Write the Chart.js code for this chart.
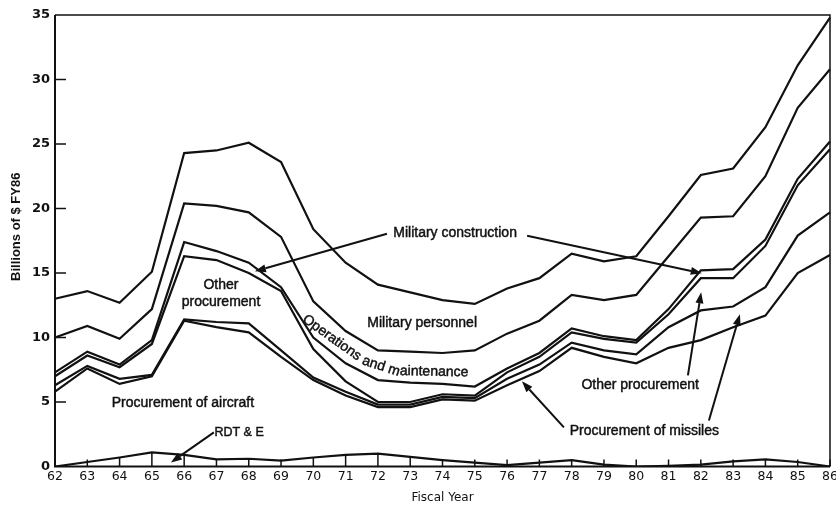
<!DOCTYPE html>
<html>
<head>
<meta charset="utf-8">
<script src="https://cdn.jsdelivr.net/npm/chart.js@4.4.1/dist/chart.umd.min.js"></script>
<style>
  html, body { margin: 0; padding: 0; background: #fff; }
  canvas { display: block; }
</style>
</head>
<body>
<canvas id="chart" width="836" height="508"></canvas>
<script>
// Fiscal years 1962-1986
const years = ['62','63','64','65','66','67','68','69','70','71','72','73','74','75','76','77','78','79','80','81','82','83','84','85','86'];

// Billions of FY86 dollars, by appropriation (stacked bottom to top)
const rdte                  = [0.0,0.35,0.7,1.1,0.9,0.55,0.6,0.45,0.7,0.9,1.0,0.75,0.5,0.3,0.1,0.3,0.5,0.15,0.0,0.05,0.15,0.4,0.55,0.35,0.0];
const aircraft              = [5.8,7.25,5.7,5.9,10.4,10.25,9.8,8.05,6.0,4.6,3.6,3.85,4.7,4.8,6.2,7.1,8.7,8.35,8.0,9.15,9.65,10.4,11.15,14.65,16.4];
const missiles              = [0.5,0.2,0.4,0.1,0.1,0.4,0.7,0.5,0.2,0.3,0.2,0.2,0.2,0.2,0.5,0.5,0.4,0.5,0.7,1.6,2.3,1.6,2.2,2.9,3.3];
const otherProcurement      = [0.7,0.8,0.9,2.4,4.9,4.8,3.9,4.6,2.2,0.8,0.2,0.2,0.2,0.2,0.5,0.6,0.8,0.9,0.9,1.0,2.5,2.2,3.2,3.9,4.9];
const militaryConstruction  = [0.3,0.3,0.2,0.3,1.1,0.7,0.8,0.3,0.9,1.4,1.7,1.5,0.8,0.7,0.3,0.3,0.3,0.2,0.2,0.4,0.6,0.7,0.5,0.5,0.6];
const operationsMaintenance = [2.7,2.0,2.0,2.4,3.0,3.5,3.9,3.9,2.8,2.5,2.3,2.4,2.4,2.8,2.7,2.5,2.6,2.8,3.5,4.1,4.1,4.1,4.9,5.5,5.6];
const militaryPersonnel     = [3.0,2.7,2.8,2.9,3.9,4.3,5.4,5.8,5.6,5.3,5.1,4.6,4.1,3.6,3.5,3.3,3.2,3.0,3.0,3.1,3.3,3.7,3.8,3.3,4.0];

const yTicks = [0, 5, 10, 15, 20, 25, 30, 35];

// Annotation text and arrows, positioned in (fiscal year, billions) units
const notes = [
  { text: 'Military construction', at: [74.39, 18.12] },
  { text: 'Other',                 at: [67.14, 14.05] },
  { text: 'procurement',           at: [67.14, 12.73] },
  { text: 'Military personnel',    at: [73.37, 11.10] },
  { text: 'Procurement of aircraft', at: [65.96, 4.89] },
  { text: 'RDT & E',               at: [67.70, 2.64], size: 12.5 },
  { text: 'Other procurement',     at: [80.12, 6.29] },
  { text: 'Procurement of missiles', at: [80.25, 2.72] }
];
const arrows = [
  { from: [72.28, 18.04], to: [68.19, 15.13] },
  { from: [76.62, 17.89], to: [82.03, 14.98] },
  { from: [66.92, 2.64],  to: [65.59, 0.31] },
  { from: [81.60, 7.06],  to: [82.01, 13.50] },
  { from: [82.25, 3.57],  to: [83.21, 11.80] },
  { from: [77.76, 3.03],  to: [76.46, 6.60] }
];
const curvedNote = {
  text: 'Operations and maintenance',
  path: [[69.71, 11.52], [71.57, 8.19], [72.53, 7.41], [75.16, 7.26]]
};

const INK = '#111';
const firstYear = Number(years[0]);
const noteFont = size => `${size || 14}px "Liberation Sans", Arial, sans-serif`;

// filled text with a hairline stroke for a slightly heavier printed look
function inkText(ctx, str, x, y) {
  ctx.fillText(str, x, y);
  ctx.strokeText(str, x, y);
}

function drawArrow(ctx, x0, y0, x1, y1) {
  const ang = Math.atan2(y1 - y0, x1 - x0);
  const head = 11, half = 4;
  const bx = x1 - head * Math.cos(ang), by = y1 - head * Math.sin(ang);
  ctx.beginPath();
  ctx.moveTo(x0, y0);
  ctx.lineTo(bx, by);
  ctx.stroke();
  ctx.beginPath();
  ctx.moveTo(x1, y1);
  ctx.lineTo(bx + half * Math.sin(ang), by - half * Math.cos(ang));
  ctx.lineTo(bx - half * Math.sin(ang), by + half * Math.cos(ang));
  ctx.closePath();
  ctx.fill();
}

function textAlongPath(ctx, text, pts) {
  const segs = [];
  let total = 0;
  for (let i = 1; i < pts.length; i++) {
    const dx = pts[i][0] - pts[i - 1][0], dy = pts[i][1] - pts[i - 1][1];
    const len = Math.hypot(dx, dy);
    segs.push({ x: pts[i - 1][0], y: pts[i - 1][1], dx, dy, len, start: total, ang: Math.atan2(dy, dx) });
    total += len;
  }
  let s = 0;
  for (const ch of text) {
    const w = ctx.measureText(ch).width;
    const mid = s + w / 2;
    const seg = segs.find(g => mid <= g.start + g.len) || segs[segs.length - 1];
    const t = (mid - seg.start) / seg.len;
    ctx.save();
    ctx.translate(seg.x + seg.dx * t, seg.y + seg.dy * t);
    ctx.rotate(seg.ang);
    inkText(ctx, ch, 0, 0);
    ctx.restore();
    s += w;
  }
}

const frameAndNotes = {
  id: 'frameAndNotes',
  afterDatasetsDraw(chart) {
    const { ctx, chartArea: a, scales: { x, y } } = chart;
    const px = yr => x.getPixelForValue(yr - firstYear);
    const py = v => y.getPixelForValue(v);
    ctx.save();
    ctx.strokeStyle = INK;
    ctx.fillStyle = INK;
    ctx.lineCap = 'butt';

    // plot frame
    ctx.lineWidth = 2;
    ctx.beginPath();
    ctx.moveTo(a.left, a.top);
    ctx.lineTo(a.left, a.bottom);
    ctx.lineTo(a.right, a.bottom);
    ctx.stroke();
    ctx.lineWidth = 1.5;
    ctx.beginPath();
    ctx.moveTo(a.left, a.top);
    ctx.lineTo(a.right, a.top);
    ctx.lineTo(a.right, a.bottom);
    ctx.stroke();

    // inward value ticks
    ctx.lineWidth = 1.5;
    yTicks.slice(1, -1).forEach(v => {
      ctx.beginPath();
      ctx.moveTo(a.left, py(v));
      ctx.lineTo(a.left + 11, py(v));
      ctx.stroke();
    });

    // year ticks, reaching up through the RDT&E band
    years.forEach((_, i) => {
      const xp = x.getPixelForValue(i);
      const top = Math.min(py(rdte[i]), a.bottom - 7);
      ctx.beginPath();
      ctx.moveTo(xp, a.bottom);
      ctx.lineTo(xp, top);
      ctx.stroke();
    });

    // labels
    ctx.textAlign = 'center';
    ctx.textBaseline = 'middle';
    ctx.lineWidth = 0.45;
    notes.forEach(n => {
      ctx.font = noteFont(n.size);
      inkText(ctx, n.text, px(n.at[0]), py(n.at[1]));
    });
    ctx.font = noteFont();
    textAlongPath(ctx, curvedNote.text, curvedNote.path.map(p => [px(p[0]), py(p[1])]));

    // value axis title
    ctx.save();
    ctx.translate(16, (a.top + a.bottom) / 2 - 14);
    ctx.rotate(-Math.PI / 2);
    ctx.font = 'bold 13px "Liberation Sans", Arial, sans-serif';
    ctx.fillText('Billions of $ FY86', 0, 0);
    ctx.restore();

    // arrows
    ctx.lineWidth = 2;
    arrows.forEach(ar => drawArrow(ctx, px(ar.from[0]), py(ar.from[1]), px(ar.to[0]), py(ar.to[1])));

    ctx.restore();
  }
};

const series = [rdte, aircraft, missiles, otherProcurement, militaryConstruction, operationsMaintenance, militaryPersonnel];
const seriesNames = ['RDT & E', 'Procurement of aircraft', 'Procurement of missiles', 'Other procurement',
                     'Military construction', 'Operations and maintenance', 'Military personnel'];

new Chart(document.getElementById('chart'), {
  type: 'line',
  data: {
    labels: years,
    datasets: series.map((d, i) => ({
      label: seriesNames[i],
      data: d,
      borderColor: INK,
      borderWidth: 2.2,
      pointRadius: 0,
      tension: 0,
      fill: false
    }))
  },
  options: {
    responsive: false,
    animation: false,
    devicePixelRatio: 1,
    layout: { padding: { top: 15, right: 6, left: 0, bottom: 0 } },
    plugins: { legend: { display: false }, tooltip: { enabled: false } },
    scales: {
      x: {
        grid: { display: false, drawTicks: false },
        border: { display: false },
        ticks: {
          color: INK, padding: 3, maxRotation: 0, autoSkip: false,
          font: { family: '"DejaVu Sans", sans-serif', size: 12.5 }
        },
        title: {
          display: true, text: 'Fiscal Year', color: INK,
          font: { family: '"DejaVu Sans", sans-serif', size: 12 },
          padding: { top: 0, bottom: 3 }
        },
        afterFit(scale) { scale.height = 41.5; scale.paddingLeft = 0; scale.paddingRight = 0; }
      },
      y: {
        stacked: true,
        min: yTicks[0],
        max: yTicks[yTicks.length - 1],
        grid: { display: false, drawTicks: false },
        border: { display: false },
        ticks: {
          stepSize: yTicks[1] - yTicks[0], color: INK, padding: 5,
          font: { family: '"DejaVu Sans", sans-serif', size: 13, weight: 'bold' }
        },
        afterFit(scale) { scale.width = 55; }
      }
    }
  },
  plugins: [frameAndNotes]
});
</script>
</body>
</html>
